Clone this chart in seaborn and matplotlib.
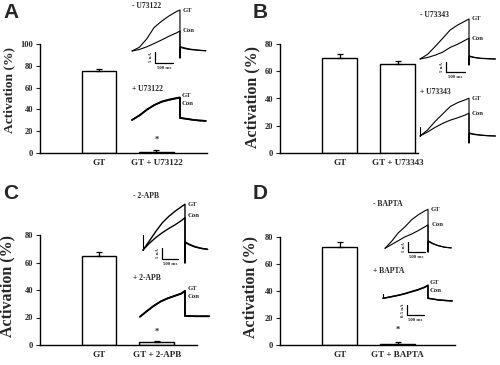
"""Four-panel activation bar charts with current-trace insets."""

import matplotlib.pyplot as plt
import pandas as pd
import seaborn as sns

W, H = 500, 365

# ---- bar data -------------------------------------------------------------
A_GROUPS = ["GT", "GT + U73122"]
A_VALUES = [75.2, 1.2]
A_ERRORS = [1.8, 1.3]

B_GROUPS = ["GT", "GT + U73343"]
B_VALUES = [70.0, 65.1]
B_ERRORS = [2.7, 2.4]

C_GROUPS = ["GT", "GT + 2-APB"]
C_VALUES = [65.0, 2.2]
C_ERRORS = [2.8, 1.0]

D_GROUPS = ["GT", "GT + BAPTA"]
D_VALUES = [72.8, 0.5]
D_ERRORS = [3.2, 1.7]

# ---- trace data (time in ms, current in nA) ------------------------------
T_TRACE = [0, 200, 400, 600, 800, 1000, 1200, 1300, 1300, 1310, 1450, 1600, 1800, 2000]

A_TOP_GT = [0, 1.7, 5.5, 10.7, 13.5, 15.9, 17.9, 18.6, -3.2, 2.0, 1.3, 0.8, 0.4, 0.1]
A_TOP_CON = [0, 0.7, 1.9, 3.4, 5.0, 6.7, 8.2, 9.1, -3.2, 1.6, 1.0, 0.6, 0.3, 0.1]
A_BOT_GT = [0, 2.1, 4.7, 6.8, 8.4, 9.3, 10.0, 10.3, 0.9, 0.9, 0.6, 0.2, -0.2, -0.4]
A_BOT_CON = [0, 2.0, 4.6, 6.7, 8.2, 9.1, 9.8, 10.1, 0.9, 0.9, 0.6, 0.2, -0.2, -0.4]

B_TOP_GT = [0, 2.3, 6.2, 10.3, 14.5, 17.0, 19.0, 20.0, -3.0, 1.5, 0.8, 0.4, 0.2, 0]
B_TOP_CON = [0, 0.75, 1.9, 3.4, 5.8, 7.4, 9.4, 10.4, -3.0, 1.2, 0.7, 0.3, 0.1, 0]
B_BOT_GT = [0, 3.0, 7.3, 11.0, 14.7, 16.7, 18.1, 18.9, -3.5, 1.5, 0.9, 0.5, 0.2, 0]
B_BOT_CON = [0, 2.0, 4.3, 6.3, 7.9, 9.1, 10.5, 11.4, -3.5, 1.2, 0.7, 0.4, 0.1, 0]

C_TOP_GT = [0, 4.2, 8.5, 12.4, 15.3, 17.7, 19.8, 20.8, -5.9, 3.6, 2.5, 1.6, 0.8, 0.3]
C_TOP_CON = [0, 3.1, 5.7, 7.9, 9.8, 11.5, 13.5, 14.7, -5.9, 3.3, 2.3, 1.4, 0.7, 0.3]
C_BOT_GT = [0, 2.6, 5.0, 7.0, 8.4, 9.5, 10.6, 11.8, 0.3, 0.3, 0.3, 0.2, 0.2, 0.2]
C_BOT_CON = [0, 2.5, 4.9, 6.9, 8.3, 9.4, 10.5, 11.6, 0.3, 0.3, 0.3, 0.2, 0.2, 0.2]

D_TOP_GT = [0, 3.5, 7.7, 10.7, 14.2, 16.7, 18.7, 19.5, -1.9, 3.7, 2.4, 1.4, 0.6, 0.2]
D_TOP_CON = [0, 1.9, 3.8, 5.7, 7.1, 8.8, 10.7, 11.7, -1.9, 3.4, 2.2, 1.3, 0.5, 0.2]
D_BOT_GT = [0, 0.07, 0.14, 0.22, 0.33, 0.43, 0.56, 0.66, 0, 0, -0.04, -0.08, -0.11, -0.13]
D_BOT_CON = [0, 0.06, 0.13, 0.21, 0.31, 0.41, 0.54, 0.64, 0, 0, -0.04, -0.08, -0.11, -0.13]

# capacitive spike at step onset (nA), where visible
ONSET = {"B_bot": 4.5, "C_top": 6.8, "D_bot": 0.2}

sns.set_style("ticks")
plt.rcParams.update({
    "font.family": ["Liberation Serif", "DejaVu Serif"],
    "font.weight": "bold",
    "axes.linewidth": 1.0,
    "axes.edgecolor": "black",
})

SERIF = ["Liberation Serif", "DejaVu Serif"]
SANS = ["Liberation Sans", "DejaVu Sans"]

fig = plt.figure(figsize=(W / 100, H / 100), dpi=100)


def px_axes(x0, y_top, x1, y_bot):
    return fig.add_axes([x0 / W, 1 - y_bot / H, (x1 - x0) / W, (y_bot - y_top) / H])


def bar_panel(box, groups, values, errors, ymax, xlim, label_xy, label_size):
    ax = px_axes(*box)
    df = pd.DataFrame({"group": groups, "value": values})
    sns.barplot(data=df, x="group", y="value", color="white", edgecolor="black",
                linewidth=1.0, width=0.6, saturation=1, errorbar=None, ax=ax)
    ax.errorbar(range(len(values)), values, yerr=[[0] * len(errors), errors],
                fmt="none", ecolor="black", elinewidth=0.9, capsize=2.5, capthick=0.9)
    ax.set_xlim(*xlim)
    ax.set_ylim(0, ymax)
    ax.set_yticks(range(0, ymax + 1, 20))
    ax.tick_params(axis="y", length=3, width=0.8, labelsize=6, pad=2)
    ax.tick_params(axis="x", length=0, labelsize=6.5, pad=4)
    for lab in ax.get_xticklabels() + ax.get_yticklabels():
        lab.set_fontweight("bold")
    sns.despine(ax=ax)
    ax.set_xlabel("")
    ax.set_ylabel("Activation (%)", fontsize=label_size, fontweight="bold")
    lx, ly = label_xy
    x0, y_top, x1, y_bot = box
    ax.yaxis.set_label_coords((lx - x0) / (x1 - x0), (y_bot - ly) / (y_bot - y_top))
    ax.patch.set_alpha(0)
    return ax


def star(ax, x, y):
    ax.text(x, y, "*", ha="center", va="center", fontsize=6, fontweight="bold")


def trace_inset(x0, yb, ppms, ppna, gt, con, lw=0.8, onset=None,
                gt_off=(3, 0), con_off=(3, 0), scale=None):
    tlim, ilim = (-100, 2200), (-12, 26) if ppna < 5 else (-1.2, 2.6)
    left = x0 + tlim[0] * ppms
    width = (tlim[1] - tlim[0]) * ppms
    bottom = yb - ilim[0] * ppna
    height = (ilim[1] - ilim[0]) * ppna
    ax = fig.add_axes([left / W, 1 - bottom / H, width / W, height / H])
    ax.set_xlim(*tlim)
    ax.set_ylim(*ilim)
    ax.axis("off")
    ax.plot(T_TRACE, con, color="black", lw=lw, solid_joinstyle="round")
    ax.plot(T_TRACE, gt, color="black", lw=lw, solid_joinstyle="round")
    if onset is not None:
        ax.plot([T_TRACE[0], T_TRACE[0]], [con[0], onset], color="black", lw=0.8)
    kw = dict(textcoords="offset pixels", ha="left", va="center",
              fontsize=4.8, fontweight="bold", family=SERIF)
    ax.annotate("GT", (T_TRACE[7], gt[7]), xytext=gt_off, **kw)
    ax.annotate("Con", (T_TRACE[7], con[7]), xytext=con_off, **kw)
    if scale is not None:
        cx, cy, amp, amp_label = scale
        t0 = (cx - x0) / ppms
        i0 = (yb - cy) / ppna
        ax.plot([t0, t0, t0 + 500], [i0 + amp, i0, i0], color="black", lw=0.9)
        ax.annotate("500 ms", (t0 + 250, i0), xytext=(0, -5), textcoords="offset pixels",
                    ha="center", va="center", fontsize=3.5, fontweight="bold")
        ax.annotate(amp_label, (t0, i0 + amp / 2), xytext=(-4, 0), textcoords="offset pixels",
                    ha="center", va="center", fontsize=3.5, fontweight="bold", rotation=90)
    return ax


def ptext(x, y, s, size=5.5, **kw):
    fig.text(x / W, 1 - y / H, s, fontsize=size, va="center", **kw)


# ---- panel A --------------------------------------------------------------
axA = bar_panel((40, 44, 207, 153), A_GROUPS, A_VALUES, A_ERRORS, 100,
                (-1.03, 1.88), (15, 90), 9.7)
star(axA, 1, 12)
ptext(132, 6, "- U73122", fontweight="bold")
ptext(132, 89, "+ U73122", fontweight="bold")
trace_inset(132, 51, 0.0369, 2.2, A_TOP_GT, A_TOP_CON, scale=(155, 63, 5, "5 nA"))
trace_inset(132, 120, 0.0369, 2.2, A_BOT_GT, A_BOT_CON, lw=1.2,
            gt_off=(2, 2), con_off=(2, -6))

# ---- panel B --------------------------------------------------------------
axB = bar_panel((280, 44, 418, 153), B_GROUPS, B_VALUES, B_ERRORS, 80,
                (-1.03, 1.35), (260, 97), 11.5)
ptext(420, 15, "- U73343", fontweight="bold")
ptext(420, 92, "+ U73343", fontweight="bold")
trace_inset(420, 59, 0.0377, 2.0, B_TOP_GT, B_TOP_CON, scale=(446, 72, 5, "5 nA"))
trace_inset(420, 136, 0.0377, 2.0, B_BOT_GT, B_BOT_CON, onset=ONSET["B_bot"])

# ---- panel C --------------------------------------------------------------
axC = bar_panel((40, 235, 197, 345), C_GROUPS, C_VALUES, C_ERRORS, 80,
                (-1.03, 1.70), (15, 286), 11.5)
star(axC, 1, 9.5)
ptext(133, 196, "- 2-APB", fontweight="bold")
ptext(133, 278, "+ 2-APB", fontweight="bold")
trace_inset(143, 250, 0.0323, 2.2, C_TOP_GT, C_TOP_CON, lw=1.0, onset=ONSET["C_top"],
            con_off=(3, 2), scale=(162, 259, 5, "5 nA"))
trace_inset(140, 316.7, 0.0346, 2.2, C_BOT_GT, C_BOT_CON, lw=1.2,
            gt_off=(3, 2), con_off=(3, -5))

# ---- panel D --------------------------------------------------------------
axD = bar_panel((280, 237, 455, 345), D_GROUPS, D_VALUES, D_ERRORS, 80,
                (-1.03, 1.99), (258, 287), 11.5)
star(axD, 1, 11)
ptext(373, 204, "- BAPTA", fontweight="bold")
ptext(373, 271, "+ BAPTA", fontweight="bold")
trace_inset(385, 248.3, 0.0331, 2.0, D_TOP_GT, D_TOP_CON, con_off=(4, 0),
            scale=(408, 252, 5, "5 nA"))
trace_inset(383, 298.3, 0.0346, 20, D_BOT_GT, D_BOT_CON, lw=1.0, onset=ONSET["D_bot"],
            gt_off=(2, 3), con_off=(2, -5), scale=(407, 315, 0.5, "0.5 nA"))

# ---- panel letters --------------------------------------------------------
for x, y, s in [(3, 12, "A"), (253, 12, "B"), (3, 193, "C"), (253, 193, "D")]:
    fig.text(x / W, 1 - y / H, s, fontsize=15, fontweight="bold", family=SANS, va="center")

fig.savefig("out.png", dpi=100)
